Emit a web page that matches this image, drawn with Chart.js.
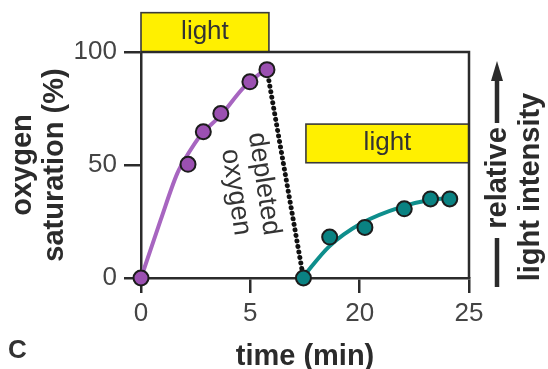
<!DOCTYPE html>
<html><head><meta charset="utf-8">
<script src="https://cdn.jsdelivr.net/npm/chart.js@4"></script>
<style>html,body{margin:0;padding:0;background:#fff}#wrap{width:548px;height:369px}</style>
</head><body><div id="wrap"><canvas id="c" width="548" height="369"></canvas></div>
<script>
// ---- data (time in minutes, oxygen saturation in %) ----
const run1Time = [0.0, 2.15, 2.85, 3.65, 4.98, 5.76];
const run1O2   = [0, 50.3, 64.7, 72.8, 86.8, 92.2];
const run1FitTime = [0, 0.9, 1.66, 2.12, 2.73, 3.65, 4.71, 5.63];
const run1FitO2   = [0, 25.7, 46.3, 54.4, 63.2, 72, 84.5, 91.9];
const run2Time = [11.0, 15.2, 20.24, 22.04, 23.24, 24.12];
const run2O2   = [0, 18.1, 22.4, 30.6, 35, 35];
const run2FitTime = [10.8, 15.1, 20.1, 21.95, 23.2, 24.0];
const run2FitO2   = [0, 13.9, 24.3, 31.6, 34.5, 35.3];
const lightStart = [0, 11.4];
const lightEnd   = [5.85, 25];
const lightLabels = ['light', 'light'];
const xTickValues = [0, 5, 20, 25];
const xTickLabels = ['0', '5', '20', '25'];
const yTickValues = [0, 50, 100];

// broken time axis: the 6–20 min stretch is compressed
function toAxis(t){ return t <= 6 ? t : (t <= 20 ? 6 + (t - 6) / 3.5 : t - 10); }
const pts = (xs, ys) => xs.map((t, i) => ({x: toAxis(t), y: ys[i]}));

const FONT = "'Liberation Sans', Arial, Helvetica, sans-serif";
Chart.defaults.font.family = FONT;
const INK = '#2b2b2b';

// vertical placement of the light bars (style, in y-axis units)
const lightBoxStyle = [{lo: 100, hi: 117.4}, {lo: 51, hi: 68.1}];

const decor = {
  id: 'decor',
  beforeDatasetsDraw(chart){
    const {ctx, chartArea: a, scales: {x, y}} = chart;
    ctx.save();
    lightStart.forEach((s, i) => {
      const x0 = x.getPixelForValue(toAxis(s)), x1 = x.getPixelForValue(toAxis(lightEnd[i]));
      const y0 = y.getPixelForValue(lightBoxStyle[i].hi), y1 = y.getPixelForValue(lightBoxStyle[i].lo);
      ctx.fillStyle = '#FFF000';
      ctx.fillRect(x0, y0, x1 - x0, y1 - y0);
      ctx.strokeStyle = '#3a3a3a'; ctx.lineWidth = 1.6;
      ctx.strokeRect(x0, y0, x1 - x0, y1 - y0);
      ctx.fillStyle = '#333'; ctx.font = '26px ' + FONT;
      ctx.textAlign = 'center'; ctx.textBaseline = 'middle';
      ctx.fillText(lightLabels[i], (x0 + x1) / 2, (y0 + y1) / 2 - 1);
    });
    ctx.strokeStyle = INK; ctx.lineWidth = 2.5;
    ctx.beginPath();
    ctx.moveTo(a.left, a.top); ctx.lineTo(a.right, a.top); ctx.lineTo(a.right, a.bottom);
    ctx.stroke();
    ctx.restore();
  },
  afterDraw(chart){
    const {ctx} = chart;
    ctx.save();
    ctx.fillStyle = '#333';
    ctx.save();
    ctx.translate(250, 186);
    ctx.rotate(81.4 * Math.PI / 180);
    ctx.font = '27px ' + FONT; ctx.textAlign = 'center'; ctx.textBaseline = 'middle';
    ctx.fillText('depleted', 0, -14);
    ctx.fillText('oxygen', 4, 15);
    ctx.restore();
    ctx.fillStyle = INK;
    ctx.font = 'bold 29px ' + FONT; ctx.textAlign = 'center'; ctx.textBaseline = 'middle';
    ctx.save(); ctx.translate(498, 178); ctx.rotate(-Math.PI / 2); ctx.fillText('relative', 0, 0); ctx.restore();
    ctx.save(); ctx.translate(531, 187); ctx.rotate(-Math.PI / 2); ctx.fillText('light intensity', 0, 0); ctx.restore();
    ctx.strokeStyle = INK; ctx.lineWidth = 4.5;
    ctx.beginPath(); ctx.moveTo(497, 238); ctx.lineTo(497, 287); ctx.stroke();
    ctx.beginPath(); ctx.moveTo(497, 123); ctx.lineTo(497, 76); ctx.stroke();
    ctx.beginPath(); ctx.moveTo(497, 61); ctx.lineTo(503, 81); ctx.lineTo(491, 81); ctx.closePath(); ctx.fill();
    ctx.font = 'bold 26px ' + FONT; ctx.textAlign = 'left'; ctx.fillStyle = '#333';
    ctx.fillText('C', 8, 351);
    ctx.restore();
  }
};

const pointStyle = (fill) => ({showLine: false, pointRadius: 7.5, pointHoverRadius: 7.5,
  pointBackgroundColor: fill, pointBorderColor: '#1c1c1c', pointBorderWidth: 2, clip: false});
const lineStyle = (col) => ({showLine: true, borderColor: col, borderWidth: 4, pointRadius: 0,
  cubicInterpolationMode: 'monotone', clip: false});

new Chart(document.getElementById('c'), {
  type: 'scatter',
  data: { datasets: [
    Object.assign({label: 'run 1', data: pts(run1Time, run1O2)}, pointStyle('#9B50B1')),
    Object.assign({label: 'run 2', data: pts(run2Time, run2O2)}, pointStyle('#0A8282')),
    Object.assign({label: 'run 1 fit', data: pts(run1FitTime, run1FitO2)}, lineStyle('#A765C0')),
    Object.assign({label: 'run 2 fit', data: pts(run2FitTime, run2FitO2)}, lineStyle('#0E8E8C')),
    {label: 'depleted', data: [
        {x: toAxis(run1Time[run1Time.length - 1]), y: run1O2[run1O2.length - 1]},
        {x: toAxis(run2Time[0]), y: run2O2[0]}],
      showLine: true, borderColor: '#111', borderWidth: 5, borderDash: [0.01, 5.6],
      borderCapStyle: 'round', pointRadius: 0, clip: false}
  ]},
  options: {
    responsive: false, animation: false, devicePixelRatio: 1,
    layout: {padding: {top: 52, right: 79, left: 0, bottom: 0}},
    plugins: {legend: {display: false}, tooltip: {enabled: false}},
    events: [],
    scales: {
      x: {
        type: 'linear', min: 0, max: 15,
        afterBuildTicks: s => { s.ticks = xTickValues.map(v => ({value: toAxis(v)})); },
        ticks: {callback: (v, i) => xTickLabels[i], font: {size: 26}, color: '#444',
          padding: 5, maxRotation: 0, autoSkip: false},
        grid: {drawOnChartArea: false, drawTicks: true, tickLength: 15, color: INK, lineWidth: 2.5},
        border: {color: INK, width: 2.5},
        title: {display: true, text: 'time (min)', color: INK,
          font: {size: 29, weight: 'bold', lineHeight: 0.8}, padding: 0},
        afterFit: s => { s.height = 91; }
      },
      y: {
        min: 0, max: 100,
        afterBuildTicks: s => { s.ticks = yTickValues.map(v => ({value: v})); },
        ticks: {font: {size: 26}, color: '#444', padding: 7},
        grid: {drawOnChartArea: false, drawTicks: true, tickLength: 17, color: INK, lineWidth: 2.5},
        border: {color: INK, width: 2.5},
        title: {display: true, text: ['oxygen', 'saturation (%)'], color: INK,
          font: {size: 29, weight: 'bold', lineHeight: 1.1}, padding: {top: 7, bottom: 0}},
        afterFit: s => { s.width = 141; }
      }
    }
  },
  plugins: [decor]
});
</script></body></html>
